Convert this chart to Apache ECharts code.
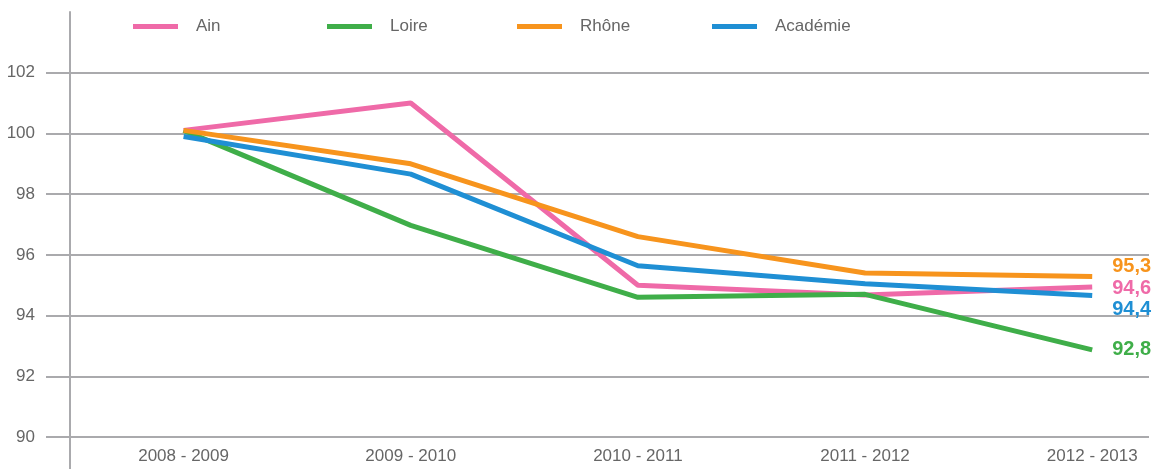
<!DOCTYPE html>
<html>
<head>
<meta charset="utf-8">
<script src="https://cdn.jsdelivr.net/npm/echarts@6/dist/echarts.min.js"></script>
<style>
  html, body { margin: 0; padding: 0; background: #fff; }
  #chart { width: 1158px; height: 469px; }
</style>
</head>
<body>
<div id="chart"></div>
<script>
// années scolaires
const categories = ['2008 - 2009', '2009 - 2010', '2010 - 2011', '2011 - 2012', '2012 - 2013']
// indices par territoire (base 100 en 2008 - 2009)
const ain = [100.1, 101.0, 95.0, 94.68, 94.94]
const loire = [100.1, 96.97, 94.6, 94.7, 92.87]
const rhone = [100.1, 99.0, 96.6, 95.4, 95.29]
const academie = [99.9, 98.66, 95.64, 95.05, 94.66]
// étiquettes de fin de courbe
const endLabels = ['94,6', '92,8', '95,3', '94,4']
const seriesNames = ['Ain', 'Loire', 'Rhône', 'Académie']
const yTicks = [90, 92, 94, 96, 98, 100, 102]

const grey = '#aaaaad'
const font = "'Liberation Sans', Arial, sans-serif"

const myChart = echarts.init(document.getElementById('chart'))

function makeSeries (name, values, color, label, dy) {
  return {
    name: name,
    type: 'line',
    symbol: 'none',
    data: values.map((v, i) => [i, v]),
    lineStyle: { color: color, width: 5 },
    itemStyle: { color: color },
    endLabel: {
      show: true,
      formatter: () => label,
      color: color,
      fontFamily: font,
      fontWeight: 'bold',
      fontSize: 20,
      distance: 20,
      offset: [0, dy]
    }
  }
}

// une légende par série pour garder l'espacement régulier
const legendLefts = [133, 327, 517, 712]
const legends = seriesNames.map((name, i) => ({
  left: legendLefts[i],
  top: 18,
  padding: 0,
  icon: 'rect',
  itemWidth: 45,
  itemHeight: 5,
  textStyle: {
    color: '#666',
    fontSize: 17,
    fontFamily: font,
    padding: [0, 0, 0, 13]
  },
  data: [name]
}))

const option = {
  animation: false,
  grid: { left: 70, right: 9, top: 12, bottom: 32 },
  legend: legends,
  xAxis: {
    type: 'value',
    min: -0.5,
    max: 4.25,
    axisLine: { show: false },
    splitLine: { show: false },
    axisTick: {
      show: true,
      customValues: [-0.5],
      length: 32,
      lineStyle: { color: grey, width: 2 }
    },
    axisLabel: {
      customValues: [0, 1, 2, 3, 4],
      formatter: (v) => categories[v],
      color: '#666',
      fontSize: 17,
      fontFamily: font,
      margin: 11
    }
  },
  yAxis: {
    type: 'value',
    min: 90,
    max: 104,
    axisLine: { show: true, onZero: false, lineStyle: { color: grey, width: 2 } },
    axisTick: {
      show: true,
      customValues: yTicks,
      length: 24,
      lineStyle: { color: grey, width: 2 }
    },
    splitLine: { show: true, lineStyle: { color: grey, width: 2 } },
    axisLabel: {
      customValues: yTicks,
      color: '#666',
      fontSize: 17,
      fontFamily: font,
      margin: 35
    }
  },
  series: [
    makeSeries('Ain', ain, '#ef6aa8', endLabels[0], 1),
    makeSeries('Loire', loire, '#3fae49', endLabels[1], 0),
    makeSeries('Rhône', rhone, '#f7941d', endLabels[2], -10),
    makeSeries('Académie', academie, '#1f8fd4', endLabels[3], 14)
  ]
}

myChart.setOption(option)
</script>
</body>
</html>
